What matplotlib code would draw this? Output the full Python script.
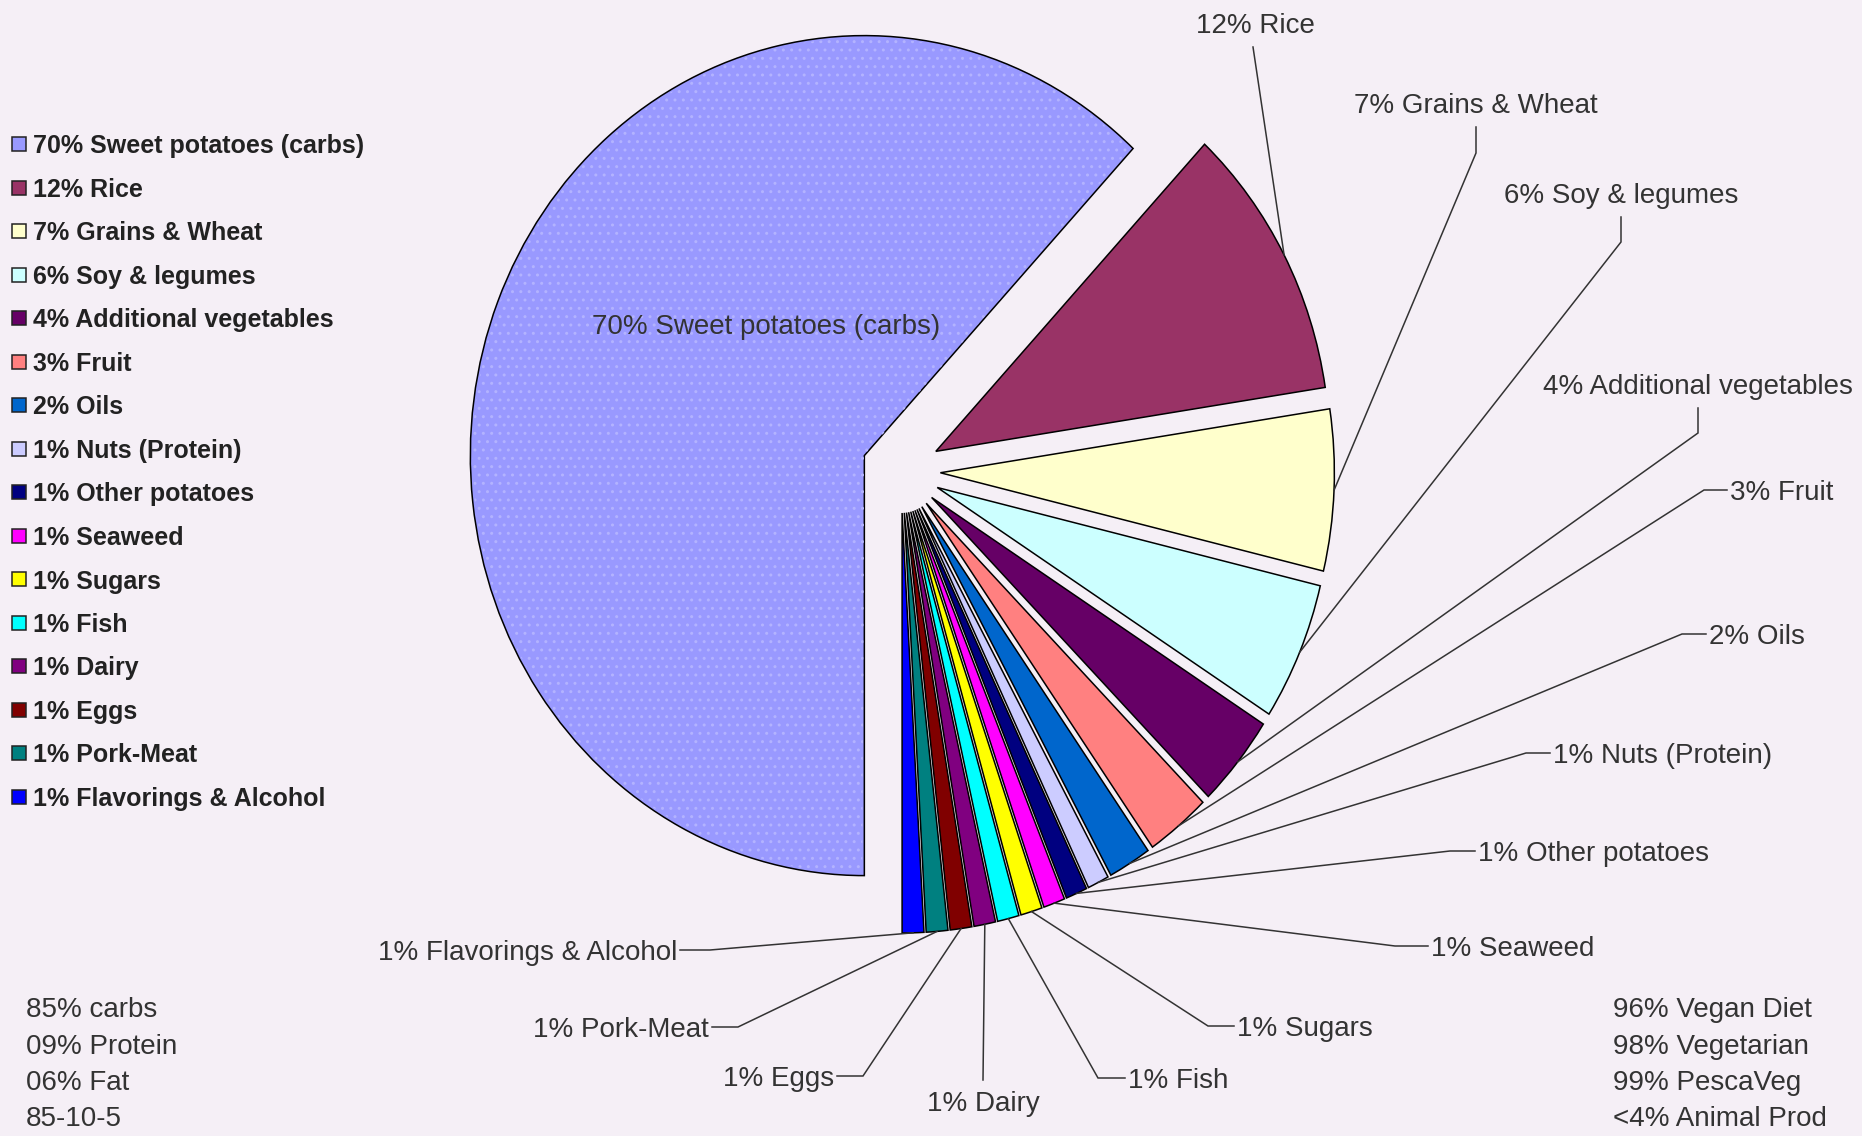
import numpy as np
import matplotlib
matplotlib.use("Agg")
import matplotlib.pyplot as plt
from matplotlib.patches import Rectangle, Wedge

plt.rcParams['font.family'] = ['Liberation Sans', 'DejaVu Sans']

# chart data
foods = ["Sweet potatoes (carbs)", "Rice", "Grains & Wheat", "Soy & legumes",
         "Additional vegetables", "Fruit", "Oils", "Nuts (Protein)", "Other potatoes",
         "Seaweed", "Sugars", "Fish", "Dairy", "Eggs", "Pork-Meat", "Flavorings & Alcohol"]
percents = [70, 12, 7, 6, 4, 3, 2, 1, 1, 1, 1, 1, 1, 1, 1, 1]
colors = ["#9999FF", "#993366", "#FFFFCC", "#CCFFFF", "#660066", "#FF8080", "#0066CC",
          "#CCCCFF", "#000080", "#FF00FF", "#FFFF00", "#00FFFF", "#800080", "#800000",
          "#008080", "#0000FF"]
macro_notes = ["85% carbs", "09% Protein", "06% Fat", "85-10-5"]
diet_notes = ["96% Vegan Diet", "98% Vegetarian", "99% PescaVeg", "<4% Animal Prod"]

W, H = 1862, 1136
BG = "#F5EFF6"
TXT = "#333333"

# label layout in pixels (from top-left): text anchor, alignment, leader bend points
label_pos = [
    (766, 324, "center", []),
    (1255, 23, "center", [(1253, 47)]),
    (1476, 103, "center", [(1476, 127), (1476, 153)]),
    (1621, 193, "center", [(1621, 217), (1621, 242)]),
    (1698, 384, "center", [(1698, 408), (1698, 433)]),
    (1730, 490, "left", [(1727, 490), (1704, 490)]),
    (1709, 634, "left", [(1706, 634), (1682, 634)]),
    (1553, 753, "left", [(1550, 753), (1526, 753)]),
    (1478, 851, "left", [(1475, 851), (1450, 851)]),
    (1431, 946, "left", [(1428, 946), (1395, 946)]),
    (1237, 1026, "left", [(1234, 1026), (1208, 1026)]),
    (1128, 1078, "left", [(1125, 1078), (1098, 1078)]),
    (983, 1101, "center", [(983, 1080)]),
    (834, 1076, "right", [(837, 1076), (863, 1076)]),
    (709, 1027, "right", [(712, 1027), (738, 1027)]),
    (677, 950, "right", [(680, 950), (710, 950)]),
]

fig = plt.figure(figsize=(W / 100, H / 100), dpi=100, facecolor=BG)

# pie axes: slightly squashed horizontally like the original picture
rx, ry = 394, 420
cx, cy = 901, 471
ax = fig.add_axes([(cx - 1.25 * rx) / W, (H - cy - 1.25 * ry) / H, 2.5 * rx / W, 2.5 * ry / H])
ax.patch.set_alpha(0)
wedges, _ = ax.pie(percents, colors=colors, startangle=270, counterclock=False,
                   explode=[0.1] * len(percents),
                   wedgeprops=dict(edgecolor="black", linewidth=1.1))
ax.set_aspect("auto")
ax.set_xlim(-1.25, 1.25)
ax.set_ylim(-1.25, 1.25)

# dotted texture on the big slice
w0 = wedges[0]
ax.add_patch(Wedge(w0.center, w0.r * 0.995, w0.theta1 + 0.3, w0.theta2 - 0.3,
                   facecolor="none", edgecolor="#B3B3FF", linewidth=0, hatch="..", zorder=1.5))

# overlay in pixel coordinates for labels, leaders and legend
ov = fig.add_axes([0, 0, 1, 1])
ov.set_xlim(0, W)
ov.set_ylim(H, 0)
ov.axis("off")
ov.patch.set_alpha(0)


def to_px(xy):
    return ov.transData.inverted().transform(ax.transData.transform(xy))


for i, (w, name, pct) in enumerate(zip(wedges, foods, percents)):
    tx, ty, ha, bends = label_pos[i]
    ov.text(tx, ty, f"{pct}% {name}", fontsize=20, color=TXT, ha=ha, va="center_baseline")
    if bends:
        th = np.deg2rad((w.theta1 + w.theta2) / 2)
        tip = to_px((w.center[0] + w.r * np.cos(th), w.center[1] + w.r * np.sin(th)))
        xs = [p[0] for p in bends] + [tip[0]]
        ys = [p[1] for p in bends] + [tip[1]]
        ov.plot(xs, ys, color="#333333", lw=1.1, solid_joinstyle="miter")

# legend
for i, (name, pct, col) in enumerate(zip(foods, percents, colors)):
    y = 144 + i * 43.5
    ov.add_patch(Rectangle((12, y - 7), 14, 14, facecolor=col, edgecolor="#222222", lw=1.1))
    ov.text(33, y, f"{pct}% {name}", fontsize=18, fontweight="bold", color="#222222",
            va="center_baseline", ha="left")

# side notes
for i, (a, b) in enumerate(zip(macro_notes, diet_notes)):
    y = 1007 + i * 36.5
    ov.text(26, y, a, fontsize=20, color=TXT, va="center_baseline")
    ov.text(1613, y, b, fontsize=20, color=TXT, va="center_baseline")

fig.savefig("out.png", dpi=100, facecolor=BG)
